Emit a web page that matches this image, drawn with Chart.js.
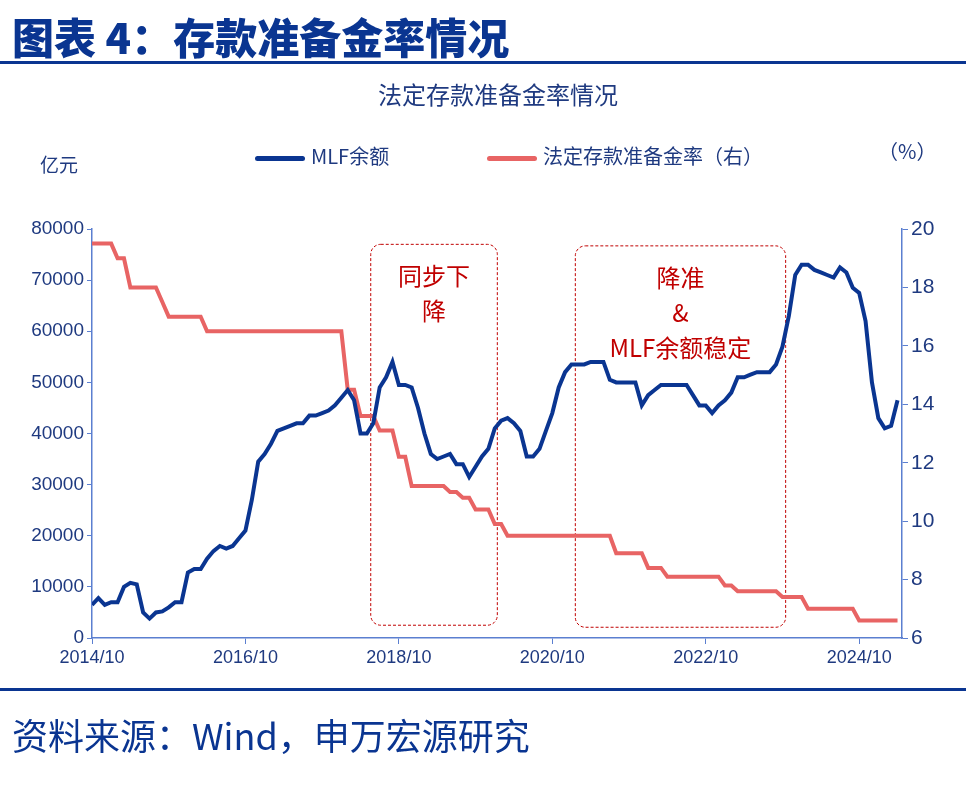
<!DOCTYPE html>
<html lang="zh">
<head>
  <meta charset="UTF-8">
  <title>存款准备金率情况</title>
  <script src="https://cdn.jsdelivr.net/npm/chart.js"></script>
  <style>
    body { margin: 0; width: 966px; height: 785px; background: #fff; position: relative; overflow: hidden;
      font-family: "Noto Sans CJK SC", "Noto Sans", sans-serif; color: #0a3591; }
    .abs { position: absolute; white-space: nowrap; }
    #title { left: 12px; top: 10px; font-size: 42px; font-weight: 900; line-height: 52px; }
    #rule1 { left: 0; top: 61px; width: 966px; height: 3px; background: #0a3591; }
    #subtitle { left: 378px; top: 76px; font-size: 24px; color: #1f3a80; }
    .leg { top: 141px; font-size: 20px; color: #1f3a80; }
    .swatch { display: inline-block; width: 50px; height: 5px; border-radius: 3px; vertical-align: middle; margin-right: 6px; }
    #unitL { left: 40px; top: 150px; font-size: 19px; color: #1f3a80; }
    #unitR { left: 878px; top: 136px; font-size: 20px; color: #1f3a80; }
    #rule2 { left: 0; top: 688px; width: 966px; height: 3px; background: #0a3591; }
    #source { left: 12px; top: 708px; font-size: 36px; }
    #chart { position: absolute; left: 0; top: 0; }
  </style>
</head>
<body>
  <canvas id="chart" width="966" height="785"></canvas>
  <div class="abs" id="title">图表 4：存款准备金率情况</div>
  <div class="abs" id="rule1"></div>
  <div class="abs" id="subtitle">法定存款准备金率情况</div>
  <div class="abs leg" style="left:255px"><span class="swatch" style="background:#0a3591"></span>MLF余额</div>
  <div class="abs leg" style="left:487px"><span class="swatch" style="background:#e86464"></span>法定存款准备金率（右）</div>
  <div class="abs" id="unitL">亿元</div>
  <div class="abs" id="unitR">（%）</div>
  <div class="abs" id="rule2"></div>
  <div class="abs" id="source">资料来源：Wind，申万宏源研究</div>

  <script>
    // monthly, starting 2014/10
    const xTickLabels = ['2014/10', '2016/10', '2018/10', '2020/10', '2022/10', '2024/10'];

    // MLF余额 (亿元)
    const mlf = [
      6500, 7800, 6500, 7000, 7000, 10000, 10800, 10500, 5000, 3800,
      5000, 5200, 6000, 7000, 7000, 12800, 13500, 13500, 15500, 17000,
      18000, 17500, 18000, 19500, 21000, 27000, 34500, 36000, 38000, 40500,
      41000, 41500, 42000, 42000, 43500, 43500, 44000, 44500, 45500, 47000,
      48500, 46500, 40000, 40000, 42000, 49000, 51000, 54000, 49500, 49500,
      49000, 45000, 40000, 36000, 35000, 35500, 36000, 34000, 34000, 31500,
      33500, 35500, 37000, 41000, 42500, 43000, 42000, 40500, 35500, 35500,
      37000, 40500, 44000, 49000, 52000, 53500, 53500, 53500, 54000, 54000,
      54000, 50500, 50000, 50000, 50000, 50000, 45500, 47500, 48500, 49500,
      49500, 49500, 49500, 49500, 47500, 45500, 45500, 44000, 45500, 46500,
      48000, 51000, 51000, 51500, 52000, 52000, 52000, 53500, 57000, 63000,
      71000, 73000, 73000, 72000, 71500, 71000, 70500, 72500, 71500, 68500,
      67500, 62000, 50000, 43000, 41000, 41500, 46500
    ];

    // 法定存款准备金率 (%)
    const rrr = [
      19.5, 19.5, 19.5, 19.5, 19.0, 19.0, 18.0, 18.0, 18.0, 18.0,
      18.0, 17.5, 17.0, 17.0, 17.0, 17.0, 17.0, 17.0, 16.5, 16.5,
      16.5, 16.5, 16.5, 16.5, 16.5, 16.5, 16.5, 16.5, 16.5, 16.5,
      16.5, 16.5, 16.5, 16.5, 16.5, 16.5, 16.5, 16.5, 16.5, 16.5,
      14.5, 14.5, 13.6, 13.6, 13.6, 13.1, 13.1, 13.1, 12.2, 12.2,
      11.2, 11.2, 11.2, 11.2, 11.2, 11.2, 11.0, 11.0, 10.8, 10.8,
      10.4, 10.4, 10.4, 9.9, 9.9, 9.5, 9.5, 9.5, 9.5, 9.5,
      9.5, 9.5, 9.5, 9.5, 9.5, 9.5, 9.5, 9.5, 9.5, 9.5,
      9.5, 9.5, 8.9, 8.9, 8.9, 8.9, 8.9, 8.4, 8.4, 8.4,
      8.1, 8.1, 8.1, 8.1, 8.1, 8.1, 8.1, 8.1, 8.1, 7.8,
      7.8, 7.6, 7.6, 7.6, 7.6, 7.6, 7.6, 7.6, 7.4, 7.4,
      7.4, 7.4, 7.0, 7.0, 7.0, 7.0, 7.0, 7.0, 7.0, 7.0,
      6.6, 6.6, 6.6, 6.6, 6.6, 6.6, 6.6
    ];

    // annotation boxes in data units (month index, 亿元)
    const boxes = [
      { x0: 43.6, x1: 63.4, y0: 77000, y1: 2500, lines: ['同步下', '降'] },
      { x0: 75.6, x1: 108.5, y0: 76700, y1: 2100, lines: ['降准', '&', 'MLF余额稳定'] }
    ];

    const axisBlue = '#5b7fd0';
    const textBlue = '#1f3a80';

    const boxPlugin = {
      id: 'boxes',
      beforeDatasetsDraw(chart) {
        const { ctx, scales: { x, y } } = chart;
        ctx.save();
        boxes.forEach(b => {
          const l = x.getPixelForValue(b.x0), r = x.getPixelForValue(b.x1);
          const t = y.getPixelForValue(b.y0), btm = y.getPixelForValue(b.y1);
          ctx.strokeStyle = '#c00000';
          ctx.lineWidth = 1;
          ctx.setLineDash([3, 2]);
          ctx.beginPath();
          ctx.roundRect(l, t, r - l, btm - t, 10);
          ctx.stroke();
          ctx.setLineDash([]);
          ctx.fillStyle = '#c00000';
          ctx.font = '24px "Noto Sans CJK SC"';
          ctx.textAlign = 'center';
          ctx.textBaseline = 'middle';
          b.lines.forEach((s, i) => ctx.fillText(s, (l + r) / 2, t + 32 + i * 35));
        });
        ctx.restore();
      }
    };

    const toPts = arr => arr.map((v, i) => ({ x: i, y: v }));
    const tickFont = { size: 19, family: 'Liberation Sans' };

    new Chart(document.getElementById('chart'), {
      type: 'line',
      data: {
        datasets: [
          { label: 'MLF余额', data: toPts(mlf), borderColor: '#0a3591', borderWidth: 4,
            pointRadius: 0, yAxisID: 'y', tension: 0, order: 1 },
          { label: '法定存款准备金率（右）', data: toPts(rrr), borderColor: '#e86464', borderWidth: 4,
            pointRadius: 0, yAxisID: 'y1', tension: 0, order: 2 }
        ]
      },
      options: {
        responsive: false,
        animation: false,
        layout: { padding: { top: 229 } },
        plugins: { legend: { display: false }, tooltip: { enabled: false } },
        scales: {
          x: {
            type: 'linear', min: 0, max: 126.7,
            afterFit(s) { s.height = 147; },
            border: { color: axisBlue, width: 1.5 },
            grid: { drawOnChartArea: false, color: axisBlue, tickLength: 6 },
            ticks: {
              stepSize: 24, includeBounds: false, color: textBlue, maxRotation: 0,
              font: { size: 18, family: 'Liberation Sans' },
              callback: v => xTickLabels[v / 24] ?? ''
            }
          },
          y: {
            position: 'left', min: 0, max: 80000,
            afterFit(s) { s.width = 92; },
            border: { color: axisBlue, width: 1.5 },
            grid: { drawOnChartArea: false, color: axisBlue, tickLength: 5 },
            ticks: { stepSize: 10000, color: textBlue, font: tickFont, callback: v => String(v) }
          },
          y1: {
            position: 'right', min: 6, max: 20,
            afterFit(s) { s.width = 64; },
            border: { color: axisBlue, width: 1.5 },
            grid: { drawOnChartArea: false, color: axisBlue, tickLength: 6 },
            ticks: { stepSize: 2, color: textBlue, font: { size: 21, family: 'Liberation Sans' } }
          }
        }
      },
      plugins: [boxPlugin]
    });
  </script>
</body>
</html>
